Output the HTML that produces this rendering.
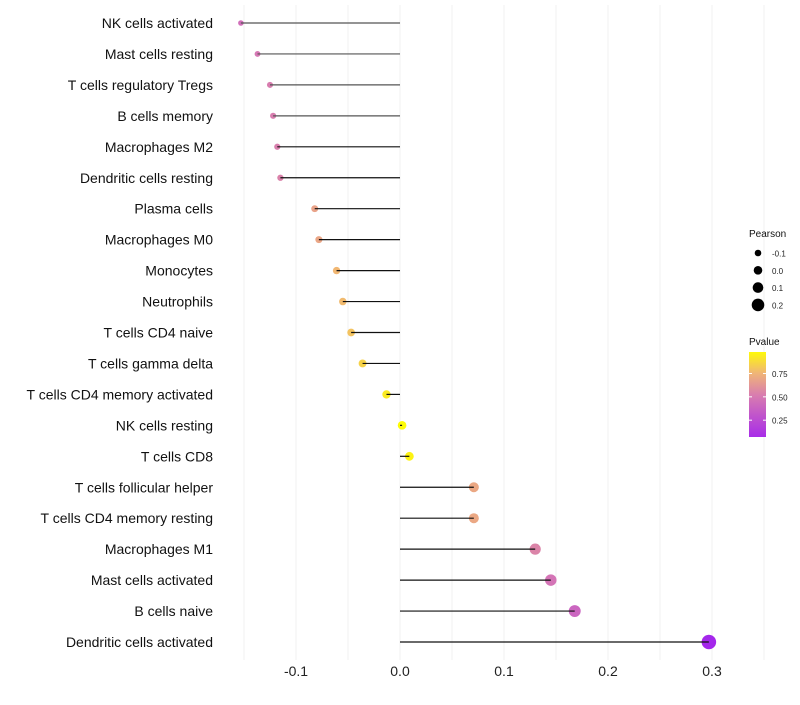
<!DOCTYPE html>
<html><head><meta charset="utf-8"><style>
body{margin:0;background:#fff;font-family:"Liberation Sans",sans-serif}
</style></head><body>
<svg id="c" width="800" height="700" xmlns="http://www.w3.org/2000/svg" font-family="Liberation Sans, sans-serif"></svg>
<script>
const categories=["NK cells activated","Mast cells resting","T cells regulatory  Tregs","B cells memory","Macrophages M2","Dendritic cells resting","Plasma cells","Macrophages M0","Monocytes","Neutrophils","T cells CD4 naive","T cells gamma delta","T cells CD4 memory activated","NK cells resting","T cells CD8","T cells follicular helper","T cells CD4 memory resting","Macrophages M1","Mast cells activated","B cells naive","Dendritic cells activated"];
const pearson=[-0.153,-0.137,-0.125,-0.122,-0.118,-0.115,-0.082,-0.078,-0.061,-0.055,-0.047,-0.036,-0.013,0.002,0.009,0.071,0.071,0.13,0.145,0.168,0.297];
const pvalues=[0.45,0.5,0.52,0.52,0.53,0.54,0.68,0.69,0.76,0.77,0.8,0.85,0.93,0.99,0.96,0.7,0.7,0.55,0.48,0.4,0.04];
const xTicks=[-0.1,0,0.1,0.2,0.3];
const xTickLabels=["-0.1","0.0","0.1","0.2","0.3"];
const sizeLegend=[-0.1,0,0.1,0.2];
const pTicks=[0.75,0.5,0.25];

const svg=document.getElementById('c');const NS="http://www.w3.org/2000/svg";
function mk(t,a,p){const e=document.createElementNS(NS,t);for(const k in a)e.setAttribute(k,a[k]);(p||svg).appendChild(e);return e;}
const X=v=>400+v*1040;
const Y=i=>23+i*30.95;
const R=v=>Math.max(1.8,4.3+v*10);
function col(p){
  const stops=[[0,[160,32,240]],[0.5,[214,120,180]],[0.75,[240,180,120]],[1,[255,255,0]]];
  for(let i=1;i<stops.length;i++){if(p<=stops[i][0]){const a=stops[i-1],b=stops[i],t=(p-a[0])/(b[0]-a[0]);
  return 'rgb('+a[1].map((c,j)=>Math.round(c+(b[1][j]-c)*t)).join(',')+')';}}
  return 'rgb(255,255,0)';
}
for(let v=-0.15;v<=0.36;v+=0.05){
  const g=mk('line',{x1:X(v),x2:X(v),y1:5,y2:660,stroke:'#f0f0f0','stroke-width':1});
  
  
}
xTicks.forEach((v,i)=>{
  const t=mk('text',{x:X(v),y:676,'text-anchor':'middle','font-size':14,fill:'#222'});t.textContent=xTickLabels[i];
  
  
});
categories.forEach((c,i)=>{
  const t=mk('text',{x:213,y:Y(i)+5,'text-anchor':'end','font-size':14,fill:'#111'});t.textContent=c;
  
  
  const d=mk('circle',{cx:X(pearson[i]),cy:Y(i),r:R(pearson[i]),fill:col(pvalues[i])});
  
  
  const l=mk('line',{x1:X(0),x2:X(pearson[i]),y1:Y(i),y2:Y(i),stroke:i<4?'#555':'#111','stroke-width':1.2});
  
  
});
const t1=mk('text',{x:749,y:237,'font-size':10,fill:'#111'});t1.textContent='Pearson';


sizeLegend.forEach((v,i)=>{
  const y=253+i*17.3;
  const c=mk('circle',{cx:758,cy:y,r:R(v),fill:'#000'});
  
  
  const t=mk('text',{x:772,y:y+3.5,'font-size':8,fill:'#222'});t.textContent=v===0?'0.0':String(v);
  
  
});
const t2=mk('text',{x:749,y:345,'font-size':10,fill:'#111'});t2.textContent='Pvalue';


const defs=mk('defs',{});const lg=mk('linearGradient',{id:'g',x1:0,y1:1,x2:0,y2:0},defs);
[0,0.25,0.5,0.75,1].forEach(f=>{const p=0.07+f*0.91;mk('stop',{offset:f,'stop-color':col(p)},lg);});
const bar=mk('rect',{x:749,y:352,width:17,height:85,fill:'url(#g)'});


const PY=p=>437-(p-0.07)/0.91*85;
pTicks.forEach(p=>{
  mk('line',{x1:749,x2:752,y1:PY(p),y2:PY(p),stroke:'#fff'});mk('line',{x1:763,x2:766,y1:PY(p),y2:PY(p),stroke:'#fff'});
  const t=mk('text',{x:772,y:PY(p)+3.5,'font-size':8,fill:'#222'});t.textContent=p.toFixed(2);
  
  
});
</script>
</body></html>
